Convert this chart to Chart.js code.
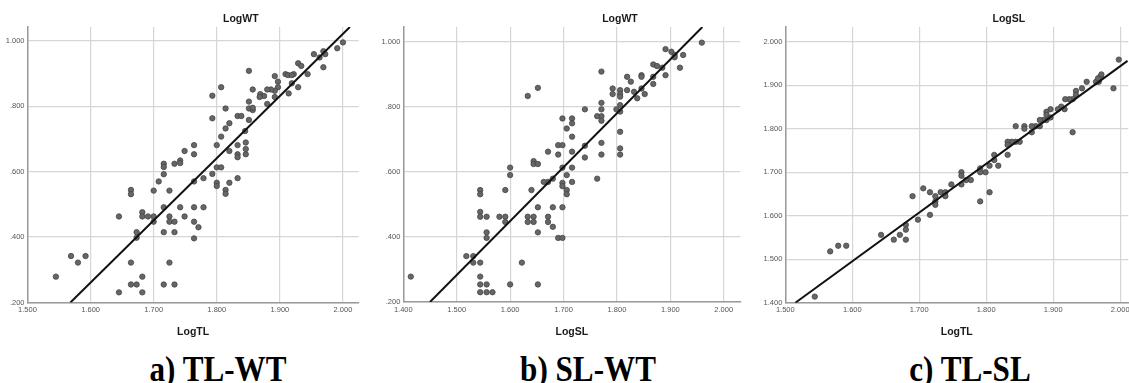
<!DOCTYPE html>
<html>
<head>
<meta charset="utf-8">
<script src="https://cdn.jsdelivr.net/npm/chart.js@4.4.1/dist/chart.umd.min.js"></script>
<style>
  body { margin: 0; background: #fff; }
  #wrap { position: relative; width: 1129px; height: 383px; overflow: hidden; }
  canvas { position: absolute; top: 0; }
  .cap {
    position: absolute; top: 350px; line-height: 35px; white-space: nowrap;
    font: bold 35px 'Liberation Serif', 'Times New Roman', serif; color: #000;
    transform: translateX(-50%) scaleX(0.89);
  }
</style>
</head>
<body>
<div id="wrap">
  <canvas id="chartA" width="376" height="345" style="left:0"></canvas>
  <canvas id="chartB" width="376" height="345" style="left:376px"></canvas>
  <canvas id="chartC" width="381" height="345" style="left:752px"></canvas>
  <div class="cap" style="left:218px">a) TL-WT</div>
  <div class="cap" style="left:588px">b) SL-WT</div>
  <div class="cap" style="left:970px">c) TL-SL</div>
</div>
<script>
// a) LogTL vs LogWT
const tlA = [2.000,1.991,1.954,1.969,1.972,1.963,1.969,1.944,1.929,1.934,1.922,1.909,1.913,1.919,1.929,1.919,1.914,1.892,1.897,1.897,
  1.892,1.892,1.886,1.880,1.869,1.875,1.868,1.880,1.851,1.857,1.851,1.851,1.857,1.857,1.851,1.845,1.833,1.839,1.814,1.807,
  1.793,1.793,1.814,1.820,1.807,1.800,1.833,1.846,1.846,1.846,1.833,1.833,1.820,1.800,1.807,1.793,1.779,1.800,1.800,1.820,
  1.833,1.814,1.814,1.764,1.764,1.749,1.742,1.742,1.733,1.716,1.716,1.716,1.708,1.764,1.700,1.725,1.664,1.664,1.716,1.742,
  1.764,1.779,1.645,1.682,1.682,1.691,1.700,1.700,1.725,1.725,1.733,1.749,1.764,1.771,1.673,1.673,1.716,1.733,1.764,1.569,
  1.592,1.580,1.664,1.725,1.545,1.682,1.664,1.673,1.716,1.733,1.645,1.682];
const wtA = [0.995,0.977,0.959,0.968,0.959,0.949,0.919,0.898,0.931,0.923,0.898,0.898,0.895,0.895,0.858,0.870,0.839,0.892,0.875,0.858,
  0.847,0.828,0.851,0.851,0.837,0.831,0.828,0.807,0.908,0.851,0.814,0.793,0.788,0.795,0.758,0.724,0.770,0.770,0.793,0.858,
  0.832,0.763,0.732,0.748,0.707,0.681,0.681,0.689,0.669,0.653,0.653,0.644,0.663,0.613,0.613,0.593,0.580,0.566,0.556,0.566,
  0.580,0.544,0.532,0.681,0.653,0.663,0.634,0.626,0.624,0.624,0.614,0.592,0.570,0.570,0.542,0.542,0.544,0.531,0.491,0.491,
  0.491,0.491,0.463,0.476,0.463,0.463,0.463,0.447,0.463,0.447,0.447,0.463,0.447,0.430,0.415,0.398,0.415,0.415,0.396,0.342,
  0.342,0.322,0.322,0.322,0.279,0.279,0.255,0.255,0.255,0.255,0.231,0.231];
const fitA = [{x: 1.568, y: 0.200}, {x: 2.011, y: 1.042}];

// b) LogSL vs LogWT
const slB = [1.959,1.891,1.902,1.908,1.908,1.924,1.918,1.891,1.885,1.868,1.875,1.868,1.868,1.846,1.846,1.846,1.852,1.838,1.832,1.826,
  1.819,1.819,1.806,1.806,1.806,1.792,1.792,1.806,1.799,1.806,1.806,1.806,1.806,1.771,1.771,1.771,1.771,1.763,1.771,1.740,
  1.771,1.771,1.740,1.740,1.716,1.698,1.706,1.716,1.716,1.690,1.698,1.690,1.716,1.671,1.633,1.652,1.698,1.716,1.706,1.716,
  1.698,1.698,1.680,1.671,1.663,1.763,1.644,1.644,1.652,1.600,1.600,1.414,1.518,1.531,1.531,1.544,1.544,1.544,1.544,1.544,
  1.556,1.556,1.556,1.544,1.544,1.556,1.544,1.556,1.567,1.580,1.591,1.591,1.591,1.600,1.622,1.640,1.633,1.633,1.644,1.644,
  1.652,1.652,1.652,1.671,1.671,1.680,1.680,1.690,1.698,1.698,1.706,1.706];
const wtB = [0.997,0.977,0.969,0.959,0.952,0.959,0.920,0.897,0.920,0.930,0.925,0.892,0.870,0.897,0.892,0.856,0.839,0.826,0.846,0.877,
  0.892,0.851,0.851,0.839,0.831,0.856,0.839,0.805,0.792,0.785,0.723,0.672,0.653,0.908,0.812,0.792,0.771,0.771,0.757,0.792,
  0.689,0.653,0.680,0.644,0.764,0.764,0.733,0.749,0.708,0.682,0.682,0.653,0.662,0.662,0.833,0.858,0.613,0.613,0.590,0.569,
  0.566,0.556,0.579,0.569,0.569,0.579,0.633,0.624,0.624,0.613,0.590,0.278,0.341,0.341,0.321,0.321,0.544,0.531,0.477,0.462,
  0.462,0.414,0.397,0.278,0.254,0.254,0.230,0.230,0.230,0.462,0.544,0.462,0.446,0.254,0.321,0.544,0.462,0.446,0.462,0.446,
  0.491,0.414,0.254,0.462,0.446,0.491,0.431,0.397,0.397,0.491,0.544,0.531];
const fitB = [{x: 1.450, y: 0.200}, {x: 1.960, y: 1.045}];

// c) LogTL vs LogSL
const tlC = [1.998,1.990,1.968,1.964,1.950,1.971,1.972,1.967,1.943,1.934,1.929,1.924,1.918,1.934,1.929,1.917,1.912,1.907,1.896,1.890,
  1.890,1.896,1.890,1.885,1.880,1.880,1.874,1.868,1.868,1.857,1.857,1.844,1.850,1.844,1.838,1.832,1.832,1.832,1.812,1.812,
  1.818,1.805,1.799,1.791,1.791,1.777,1.770,1.763,1.763,1.763,1.748,1.706,1.791,1.805,1.716,1.724,1.724,1.724,1.732,1.739,
  1.739,1.690,1.716,1.698,1.680,1.680,1.680,1.671,1.662,1.643,1.567,1.579,1.591,1.544];
const slC = [1.959,1.893,1.908,1.908,1.908,1.921,1.925,1.916,1.893,1.887,1.868,1.868,1.868,1.878,1.792,1.845,1.851,1.845,1.845,1.839,
  1.832,1.826,1.820,1.820,1.820,1.806,1.806,1.806,1.792,1.806,1.800,1.806,1.770,1.770,1.770,1.770,1.763,1.740,1.740,1.728,
  1.715,1.715,1.700,1.709,1.700,1.682,1.682,1.700,1.692,1.672,1.672,1.663,1.633,1.654,1.654,1.645,1.633,1.625,1.654,1.654,
  1.645,1.645,1.602,1.591,1.579,1.568,1.545,1.556,1.545,1.556,1.518,1.531,1.531,1.414];
const fitC = [{x: 1.515, y: 1.400}, {x: 2.011, y: 1.956}];

const labelFont = { family: "'Liberation Sans Narrow', 'Arial Narrow', 'Liberation Sans', Arial, sans-serif", size: 10.5, weight: 'bold' };
const tickFont = { family: "'Liberation Sans Narrow', 'Arial Narrow', 'Liberation Sans', Arial, sans-serif", size: 7.5 };

// SPSS style: drop the leading zero
const fmt = v => { const s = Number(v).toFixed(3); return s.startsWith('0') ? s.slice(1) : s; };

// variable name placed above the plot, right of centre
const topTitle = {
  id: 'topTitle',
  afterDraw(chart, args, opts) {
    const { ctx, chartArea } = chart;
    ctx.save();
    ctx.font = `bold ${labelFont.size}px ${labelFont.family}`;
    ctx.fillStyle = '#1a1a1a';
    ctx.textAlign = 'center';
    ctx.textBaseline = 'middle';
    ctx.fillText(opts.text, chartArea.left + opts.at * (chartArea.right - chartArea.left), opts.y);
    ctx.restore();
  }
};

function makeChart(id, xs, ys, fit, p) {
  const points = xs.map((x, i) => ({ x: x, y: ys[i] }));
  return new Chart(document.getElementById(id), {
    type: 'scatter',
    data: {
      datasets: [
        { data: fit, type: 'line', showLine: true, borderColor: '#111', borderWidth: 2, pointRadius: 0, order: 0 },
        { data: points, pointRadius: 2.7, backgroundColor: '#666666', borderColor: '#454545', borderWidth: 0.8, order: 1 }
      ]
    },
    options: {
      responsive: false,
      animation: false,
      layout: { padding: { left: 0, right: p.padRight, top: 27, bottom: 0 } },
      plugins: {
        legend: { display: false },
        tooltip: { enabled: false },
        topTitle: { text: p.yName, at: p.titleAt, y: 19.5 }
      },
      scales: {
        x: {
          type: 'linear', min: p.xMin, max: p.xMax,
          afterFit: s => { s.height = p.xHeight; },
          ticks: { stepSize: 0.1, includeBounds: false, padding: 3, color: '#555', font: tickFont, callback: fmt, maxRotation: 0 },
          grid: { color: '#d6d6d6', lineWidth: 1.2, drawTicks: false },
          border: { color: '#9a9a9a', width: 1.5 },
          title: { display: true, text: p.xName, color: '#1a1a1a', font: labelFont, padding: { top: 0, bottom: 6.7 } }
        },
        y: {
          type: 'linear', min: p.yMin, max: p.yMax,
          afterFit: s => { s.width = p.yWidth; },
          ticks: { stepSize: p.yStep, includeBounds: false, padding: 3, color: '#555', font: tickFont, callback: fmt },
          grid: { color: '#d6d6d6', lineWidth: 1.2, drawTicks: false },
          border: { color: '#9a9a9a', width: 1.5 }
        }
      }
    },
    plugins: [topTitle]
  });
}

makeChart('chartA', tlA, wtA, fitA, {
  xName: 'LogTL', yName: 'LogWT', xMin: 1.5, xMax: 2.025, yMin: 0.2, yMax: 1.042, yStep: 0.2,
  yWidth: 27.5, xHeight: 42.5, padRight: 17.3, titleAt: 0.644
});
makeChart('chartB', slB, wtB, fitB, {
  xName: 'LogSL', yName: 'LogWT', xMin: 1.4, xMax: 2.031, yMin: 0.2, yMax: 1.045, yStep: 0.2,
  yWidth: 27.3, xHeight: 43, padRight: 11.7, titleAt: 0.643
});
makeChart('chartC', tlC, slC, fitC, {
  xName: 'LogTL', yName: 'LogSL', xMin: 1.5, xMax: 2.012, yMin: 1.4, yMax: 2.034, yStep: 0.1,
  yWidth: 33.3, xHeight: 42.3, padRight: 0, titleAt: 0.652
});
</script>
</body>
</html>
